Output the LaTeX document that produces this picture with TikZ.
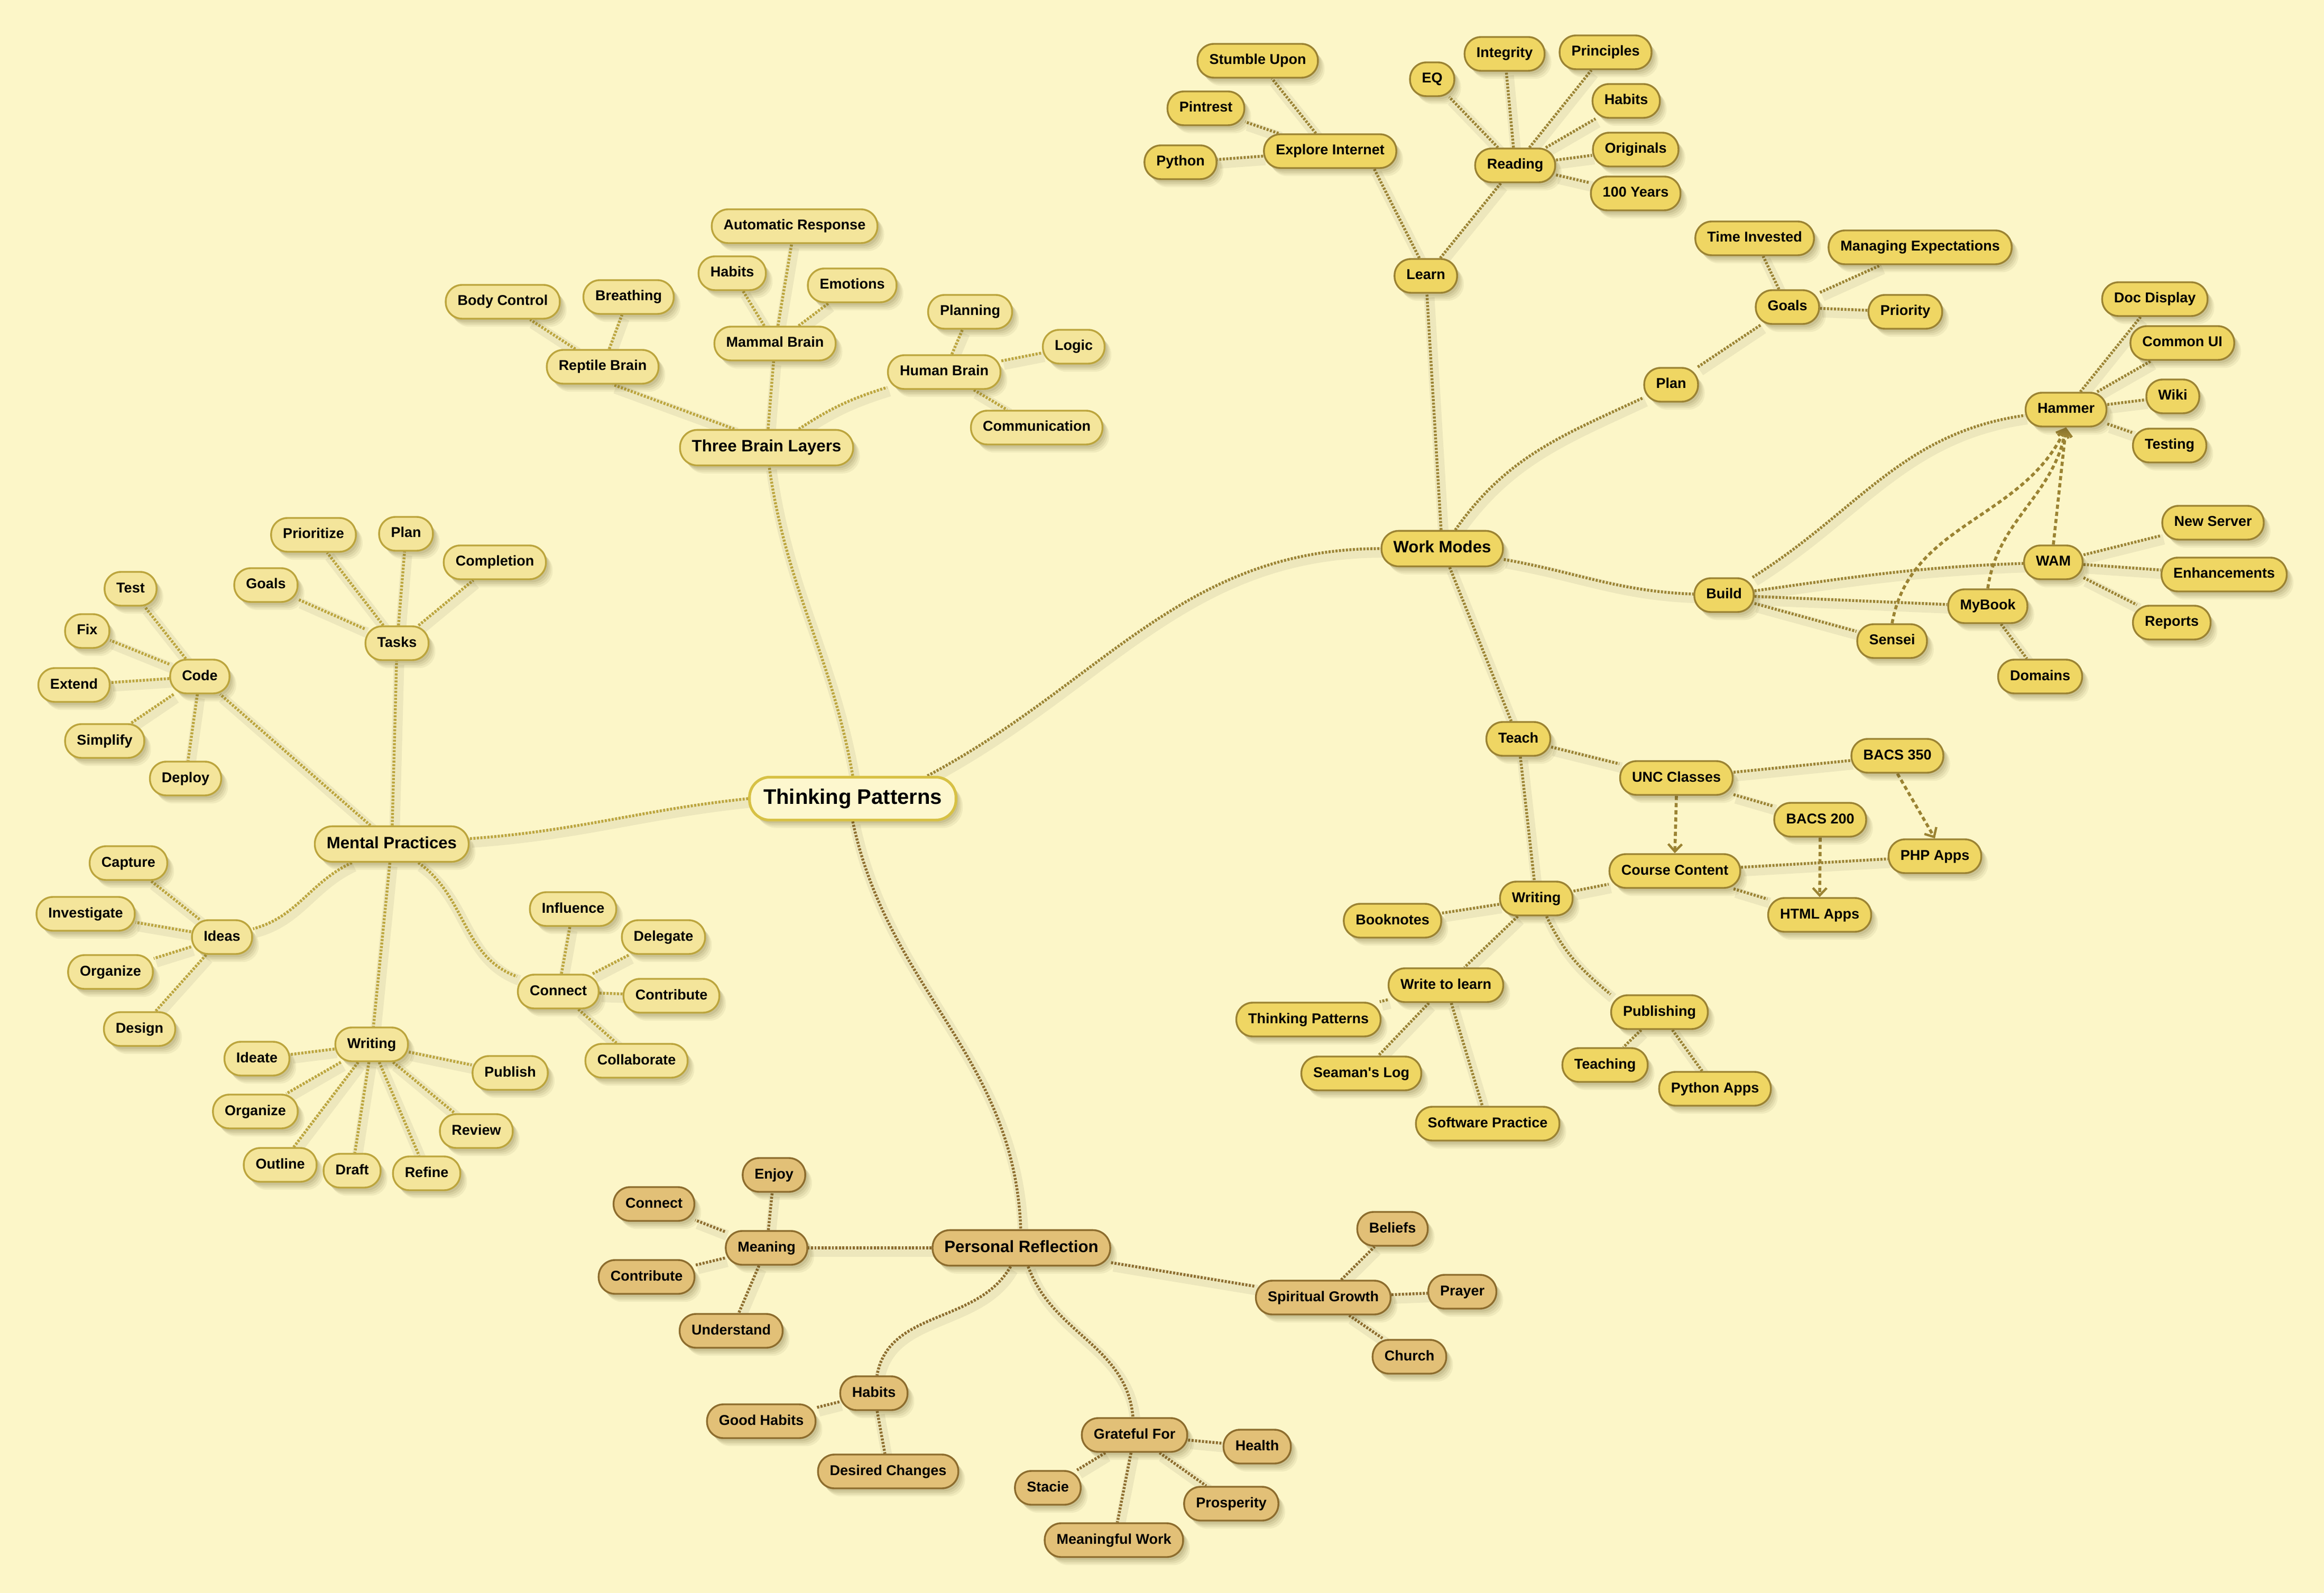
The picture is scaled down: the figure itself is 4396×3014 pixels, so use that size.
\documentclass[tikz,border=0pt]{standalone}
\usepackage{fontspec}
\setmainfont{Liberation Sans}
\usetikzlibrary{arrows.meta,shadows}
\definecolor{bgc}{HTML}{FCF6C8}
\definecolor{wfill}{HTML}{EFD663}
\definecolor{wdraw}{HTML}{9B8333}
\definecolor{bfill}{HTML}{F4E59B}
\definecolor{bdraw}{HTML}{BCA53D}
\definecolor{pfill}{HTML}{E2C077}
\definecolor{pdraw}{HTML}{8D6D2E}
\definecolor{cfill}{HTML}{FDF7CE}
\definecolor{cdraw}{HTML}{D7C145}
\definecolor{shc}{HTML}{5A4E1E}
\pgfdeclarelayer{bg}
\pgfdeclarelayer{edges}
\pgfsetlayers{bg,edges,main}
\tikzset{
  shd/.style={
    general shadow={fill=shc, fill opacity=0.07, shadow xshift=3.2pt, shadow yshift=-3.8pt},
    general shadow={fill=shc, fill opacity=0.08, shadow xshift=2.5pt, shadow yshift=-3pt},
    general shadow={fill=shc, fill opacity=0.09, shadow xshift=1.8pt, shadow yshift=-2.2pt},
    general shadow={fill=shc, fill opacity=0.10, shadow xshift=1.1pt, shadow yshift=-1.4pt}},
  nd/.style={rectangle, rounded corners=7.8pt, minimum height=16pt, inner xsep=5.6pt, inner ysep=0pt,
    text height=4.9pt, text depth=1.4pt, line width=0.85pt, text=black,
    font=\bfseries\fontsize{6.75}{8}\selectfont, shd},
  big/.style={minimum height=16.8pt, rounded corners=8.2pt, text height=5.6pt, text depth=1.6pt,
    font=\bfseries\fontsize{7.8}{9}\selectfont},
  wn/.style={nd, fill=wfill, draw=wdraw},
  bn/.style={nd, fill=bfill, draw=bdraw},
  pn/.style={nd, fill=pfill, draw=pdraw},
  cn/.style={rectangle, fill=cfill, draw=cdraw, line width=1.3pt, minimum height=20.3pt, rounded corners=9.6pt,
    inner xsep=6.6pt, inner ysep=0pt, text height=7.2pt, text depth=2pt, text=black,
    font=\bfseries\fontsize{10}{12}\selectfont, shd},
  lnk/.style={line width=1.35pt, dash pattern=on 0.95pt off 0.7pt,
    preaction={draw=black, draw opacity=0.06, line width=5pt, solid, transform canvas={shift={(1.1pt,-1.8pt)}}}},
  we/.style={lnk, draw=wdraw},
  be/.style={lnk, draw=bdraw},
  pe/.style={lnk, draw=pdraw},
  arr/.style={draw=wdraw, line width=1.4pt, dash pattern=on 2pt off 1.4pt,
    -{Straight Barb[length=3.5pt,width=6.5pt,line width=1.1pt]}},
}
\begin{document}
\begin{tikzpicture}[x=0.25pt,y=-0.25pt]
\useasboundingbox (0,0) rectangle (4396,3014);
\begin{pgfonlayer}{bg}
\fill[bgc] (0,0) rectangle (4396,3014);
\end{pgfonlayer}
% center
\node[cn] (tp) at (1613,1511) {Thinking Patterns};
% brain
\node[bn,big] (tbl) at (1450,847) {Three Brain Layers};
\node[bn] (rep) at (1140,694) {Reptile Brain};
\node[bn] (body) at (951,571) {Body Control};
\node[bn] (breath) at (1189,562) {Breathing};
\node[bn] (mam) at (1466,650) {Mammal Brain};
\node[bn] (bhab) at (1385,517) {Habits};
\node[bn] (auto) at (1503,428) {Automatic Response};
\node[bn] (emo) at (1612,540) {Emotions};
\node[bn] (hum) at (1786,704) {Human Brain};
\node[bn] (plng) at (1835,590) {Planning};
\node[bn] (logic) at (2031,656) {Logic};
\node[bn] (comm) at (1961,809) {Communication};
% mental
\node[bn,big] (mp) at (741,1597) {Mental Practices};
\node[bn] (tasks) at (751,1217) {Tasks};
\node[bn] (prio) at (593,1012) {Prioritize};
\node[bn] (mplan) at (768,1010) {Plan};
\node[bn] (compl) at (936,1064) {Completion};
\node[bn] (mgoals) at (503,1107) {Goals};
\node[bn] (code) at (378,1280) {Code};
\node[bn] (test) at (247,1114) {Test};
\node[bn] (fix) at (165,1194) {Fix};
\node[bn] (extend) at (140,1296) {Extend};
\node[bn] (simp) at (198,1402) {Simplify};
\node[bn] (deploy) at (351,1473) {Deploy};
\node[bn] (ideas) at (420,1773) {Ideas};
\node[bn] (capt) at (243,1633) {Capture};
\node[bn] (inv) at (162,1729) {Investigate};
\node[bn] (iorg) at (209,1839) {Organize};
\node[bn] (design) at (264,1947) {Design};
\node[bn] (mwrit) at (703,1976) {Writing};
\node[bn] (ideate) at (486,2003) {Ideate};
\node[bn] (worg) at (483,2103) {Organize};
\node[bn] (outl) at (530,2204) {Outline};
\node[bn] (draft) at (666,2215) {Draft};
\node[bn] (refine) at (807,2220) {Refine};
\node[bn] (review) at (901,2140) {Review};
\node[bn] (publish) at (965,2030) {Publish};
\node[bn] (mconn) at (1056,1876) {Connect};
\node[bn] (infl) at (1084,1720) {Influence};
\node[bn] (deleg) at (1255,1773) {Delegate};
\node[bn] (contr) at (1270,1884) {Contribute};
\node[bn] (collab) at (1204,2007) {Collaborate};
% work
\node[wn,big] (wm) at (2728,1038) {Work Modes};
\node[wn] (learn) at (2697,522) {Learn};
\node[wn] (ei) at (2516,286) {Explore Internet};
\node[wn] (stumble) at (2379,115) {Stumble Upon};
\node[wn] (pint) at (2281,205) {Pintrest};
\node[wn] (python) at (2233,307) {Python};
\node[wn] (reading) at (2866,313) {Reading};
\node[wn] (eq) at (2709,150) {EQ};
\node[wn] (integ) at (2846,102) {Integrity};
\node[wn] (princ) at (3037,99) {Principles};
\node[wn] (rhab) at (3076,191) {Habits};
\node[wn] (orig) at (3094,283) {Originals};
\node[wn] (hundred) at (3094,366) {100 Years};
\node[wn] (wplan) at (3161,728) {Plan};
\node[wn] (wgoals) at (3381,581) {Goals};
\node[wn] (timeinv) at (3319,451) {Time Invested};
\node[wn] (manexp) at (3632,468) {Managing Expectations};
\node[wn] (wprio) at (3604,590) {Priority};
\node[wn] (build) at (3261,1126) {Build};
\node[wn] (hammer) at (3908,775) {Hammer};
\node[wn] (docd) at (4076,566) {Doc Display};
\node[wn] (comui) at (4128,649) {Common UI};
\node[wn] (wiki) at (4110,750) {Wiki};
\node[wn] (testing) at (4104,843) {Testing};
\node[wn] (wam) at (3884,1064) {WAM};
\node[wn] (newsrv) at (4186,989) {New Server};
\node[wn] (enh) at (4207,1087) {Enhancements};
\node[wn] (reports) at (4108,1178) {Reports};
\node[wn] (mybook) at (3760,1147) {MyBook};
\node[wn] (sensei) at (3579,1213) {Sensei};
\node[wn] (domains) at (3859,1280) {Domains};
\node[wn] (teach) at (2872,1398) {Teach};
\node[wn] (unc) at (3171,1472) {UNC Classes};
\node[wn] (b350) at (3589,1430) {BACS 350};
\node[wn] (b200) at (3443,1551) {BACS 200};
\node[wn] (php) at (3660,1620) {PHP Apps};
\node[wn] (html) at (3442,1731) {HTML Apps};
\node[wn] (cc) at (3168,1648) {Course Content};
\node[wn] (wwrit) at (2906,1700) {Writing};
\node[wn] (bookn) at (2634,1742) {Booknotes};
\node[wn] (w2l) at (2735,1864) {Write to learn};
\node[wn] (tpleaf) at (2475,1929) {Thinking Patterns};
\node[wn] (seaman) at (2575,2031) {Seaman\textquotesingle s Log};
\node[wn] (softp) at (2814,2126) {Software Practice};
\node[wn] (publ) at (3139,1915) {Publishing};
\node[wn] (teaching) at (3036,2015) {Teaching};
\node[wn] (pyapps) at (3244,2060) {Python Apps};
% personal reflection
\node[pn,big] (pr) at (1932,2361) {Personal Reflection};
\node[pn] (meaning) at (1450,2361) {Meaning};
\node[pn] (enjoy) at (1464,2223) {Enjoy};
\node[pn] (pconn) at (1237,2278) {Connect};
\node[pn] (pcontr) at (1223,2416) {Contribute};
\node[pn] (underst) at (1383,2518) {Understand};
\node[pn] (phab) at (1653,2636) {Habits};
\node[pn] (goodh) at (1440,2689) {Good Habits};
\node[pn] (desch) at (1680,2784) {Desired Changes};
\node[pn] (grate) at (2146,2715) {Grateful For};
\node[pn] (health) at (2378,2737) {Health};
\node[pn] (stacie) at (1982,2815) {Stacie};
\node[pn] (prosp) at (2329,2845) {Prosperity};
\node[pn] (meanw) at (2107,2914) {Meaningful Work};
\node[pn] (spirit) at (2503,2455) {Spiritual Growth};
\node[pn] (beliefs) at (2634,2325) {Beliefs};
\node[pn] (prayer) at (2766,2444) {Prayer};
\node[pn] (church) at (2666,2567) {Church};

\begin{pgfonlayer}{edges}
% main branches
\draw[be] (tp.north) to[out=100,in=-82] (tbl);
\draw[be] (tp.west) to[out=186,in=4] (mp);
\draw[we] (tp.17) to[out=28,in=180] (wm);
\draw[pe] (tp.south) to[out=-78,in=92] (pr);
% brain
\draw[be] (tbl.150) -- (rep.-60);
\draw[be] (tbl.30) to[bend left=8] (hum.195);
\foreach \a/\b in {tbl/mam, rep/body, rep/breath, mam/bhab, mam/auto, mam/emo, hum/plng, hum/logic, hum/comm}
  \draw[be] (\a) -- (\b);
% mental
\draw[be] (mp) to[out=-155,in=15] (ideas);
\draw[be] (mp) to[out=-35,in=160] (mconn);
\foreach \a/\b in {mp/tasks, mp/code, mp/mwrit, tasks/prio, tasks/mplan, tasks/compl, tasks/mgoals,
  code/test, code/fix, code/extend, code/simp, code/deploy, ideas/capt, ideas/inv, ideas/iorg, ideas/design,
  mwrit/ideate, mwrit/worg, mwrit/outl, mwrit/draft, mwrit/refine, mwrit/review, mwrit/publish,
  mconn/infl, mconn/deleg, mconn/contr, mconn/collab}
  \draw[be] (\a) -- (\b);
% work
\draw[we] (wm) to[out=55,in=205] (wplan);
\draw[we] (wm) to[out=-10,in=178] (build);
\draw[we] (build) to[out=32,in=188] (hammer);
\draw[we] (build) to[out=8,in=182] (wam);
\draw[we] (learn.110) -- (ei.-22);
\draw[we] (wwrit.-60) to[out=-65,in=140] (publ.160);
\foreach \a/\b in {wm/learn, wm/teach, learn/reading, ei/stumble, ei/pint, ei/python,
  reading/eq, reading/integ, reading/princ, reading/rhab, reading/orig, reading/hundred,
  wplan/wgoals, wgoals/timeinv, wgoals/manexp, wgoals/wprio, build/mybook, build/sensei,
  hammer/docd, hammer/comui, hammer/wiki, hammer/testing, wam/newsrv, wam/enh, wam/reports,
  mybook/domains, teach/unc, teach/wwrit, unc/b350, unc/b200, cc/php, cc/html,
  wwrit/cc, wwrit/bookn, wwrit/w2l, w2l/tpleaf, w2l/seaman, w2l/softp, publ/teaching, publ/pyapps}
  \draw[we] (\a) -- (\b);
\draw[arr] (sensei.north) to[out=80,in=-115] (hammer.south);
\draw[arr] (mybook.north) to[out=82,in=-100] (hammer.south);
\draw[arr] (wam.north) -- (hammer.south);
\draw[arr] (unc.south) -- (cc.north);
\draw[arr] (b350.south) -- (php.north);
\draw[arr] (b200.south) -- (html.north);
% personal reflection
\draw[pe] (pr) to[out=-120,in=80] (phab);
\draw[pe] (pr) to[out=-70,in=95] (grate);
\foreach \a/\b in {pr/meaning, pr/spirit, meaning/enjoy, meaning/pconn, meaning/pcontr, meaning/underst,
  phab/goodh, phab/desch, grate/health, grate/stacie, grate/prosp, grate/meanw,
  spirit/beliefs, spirit/prayer, spirit/church}
  \draw[pe] (\a) -- (\b);
\end{pgfonlayer}
\end{tikzpicture}
\end{document}
